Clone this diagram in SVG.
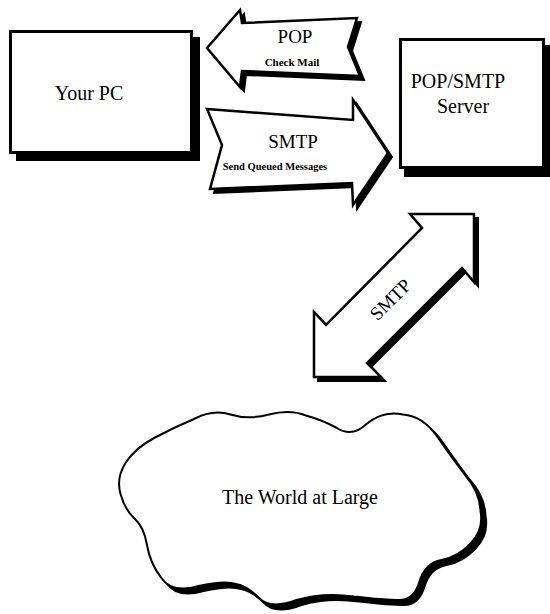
<svg xmlns="http://www.w3.org/2000/svg" width="550" height="614" viewBox="0 0 550 614">
<style>
.shadow{fill:#000;stroke:#000;stroke-width:2}
.shape{fill:#fff;stroke:#000;stroke-width:2.5;stroke-linejoin:miter}
.box{fill:#fff;stroke:#000;stroke-width:3}
</style>
<defs>
<path id="cloudPath" d="M120.5,494 Q116,478 125.5,463 Q135,448 155,437.5 Q175,427 194,419 Q213,409 230.5,414.5 Q248,420 269,414.5 Q290,409 306,415.5 Q322,420 336,427.5 Q352,438 366.5,424 Q383,410 403,414.5 Q423,416 437.5,437 Q452,458 465,475 Q480,492 480.5,511 Q484,530 470.5,543.5 Q458,557 441.5,560 Q425,563 419.5,581.5 Q414,600 399.5,600 Q385,600 354,596.5 Q323,592 296.5,600 Q270,610 258.5,597.5 Q247,586 236,584 Q225,580 198.5,586 Q172,594 161,577.5 Q150,563 147,545 Q144,527 134.5,518.5 Q125,510 120.5,494 Z"/>
</defs>
<g id="connectors" font-family="Liberation Serif, Times New Roman, serif">
<g id="pop-arrow">
<polygon class="shadow" transform="translate(4,4)" points="207,48 240,10 242,23 357,18 348,47 360,76 242,71 240,87"/>
<polygon class="shape" points="207,48 240,10 242,23 357,18 348,47 360,76 242,71 240,87"/>
<text x="295" y="43" font-size="19" text-anchor="middle">POP</text>
<text x="292" y="66" font-size="11" font-weight="bold" text-anchor="middle">Check Mail</text>
</g>
<g id="smtp-arrow">
<polygon class="shadow" transform="translate(4,4)" points="207,109 353,120 353,100 388,153 353,205 352,183 210,189 222,145"/>
<polygon class="shape" points="207,109 353,120 353,100 388,153 353,205 352,183 210,189 222,145"/>
<text x="293" y="148" font-size="19" text-anchor="middle">SMTP</text>
<text x="275" y="170" font-size="10.5" font-weight="bold" text-anchor="middle">Send Queued Messages</text>
</g>
<g id="smtp-diagonal">
<polygon class="shadow" transform="translate(4,4)" points="410,214 474,214 474,282 462,268 367,363 381,377 314,377 314,312 326,325 422,228"/>
<polygon class="shape" points="410,214 474,214 474,282 462,268 367,363 381,377 314,377 314,312 326,325 422,228"/>
<text x="0" y="0" font-size="19" text-anchor="middle" transform="translate(395,304) rotate(-45)">SMTP</text>
</g>
</g>
<g id="your-pc" font-family="Liberation Serif, Times New Roman, serif">
<rect x="16" y="37" width="184" height="124" fill="#000"/>
<rect class="box" x="10.5" y="31.5" width="181" height="121"/>
<text x="89" y="100" font-size="20" text-anchor="middle">Your PC</text>
</g>
<g id="server" font-family="Liberation Serif, Times New Roman, serif">
<rect x="404" y="45" width="146" height="132" fill="#000"/>
<rect class="box" x="400.5" y="39.5" width="143" height="128"/>
<text x="458" y="88" font-size="20" text-anchor="middle">POP/SMTP</text>
<text x="463" y="113" font-size="20" text-anchor="middle">Server</text>
</g>
<g id="world" font-family="Liberation Serif, Times New Roman, serif">
<use href="#cloudPath" transform="translate(5,5)" fill="#000" stroke="#000" stroke-width="2"/>
<use href="#cloudPath" fill="#fff" stroke="#000" stroke-width="2"/>
<text x="300" y="504" font-size="20" text-anchor="middle">The World at Large</text>
</g>
</svg>
